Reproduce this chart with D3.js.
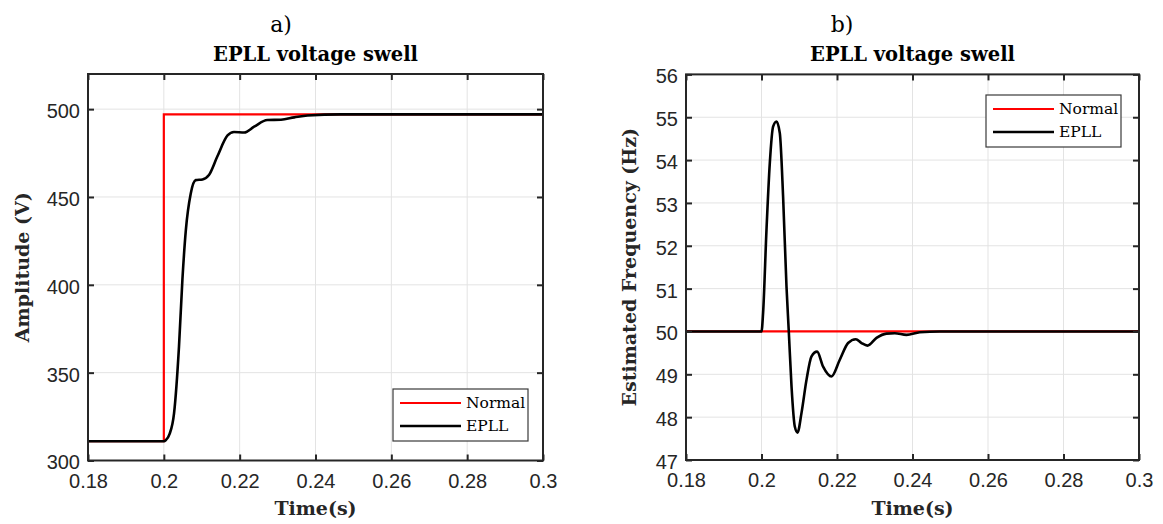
<!DOCTYPE html>
<html>
<head>
<meta charset="utf-8">
<script src="https://cdn.jsdelivr.net/npm/d3@7"></script>
<style>
  html, body { margin: 0; padding: 0; background: #fff; }
  svg { display: block; }
  .tick text { font-family: "Liberation Sans", Arial, sans-serif; font-size: 20px; fill: #262626; }
</style>
</head>
<body>
<svg id="chart" width="1163" height="524"></svg>
<script>
// Shared time axis ticks (s)
const timeTicks = [0.18, 0.2, 0.22, 0.24, 0.26, 0.28, 0.3];

// Panel a) amplitude ticks (V)
const ampTicks = [300, 350, 400, 450, 500];
// Ideal (normal) amplitude: step at the swell instant
const normalAmpTime = [0.18, 0.2, 0.2, 0.3];
const normalAmp     = [311, 311, 497, 497];
// EPLL amplitude estimate
const epllAmpTime = [0.18, 0.2, 0.2005, 0.2015, 0.2027, 0.2040, 0.2049, 0.2058, 0.2071, 0.2084,
                     0.2102, 0.2119, 0.2141, 0.2168, 0.2185, 0.2212, 0.2238, 0.2273, 0.2309,
                     0.2344, 0.2379, 0.2467, 0.26, 0.3];
const epllAmp     = [311, 311, 311.5, 315, 327, 365, 403, 431, 452, 459.6,
                     460, 462.5, 473, 485, 487, 486.7, 490, 493.8, 494,
                     495.3, 496.4, 497, 497, 497];

// Panel b) frequency ticks (Hz)
const freqTicks = [47, 48, 49, 50, 51, 52, 53, 54, 55, 56];
const normalFreqTime = [0.18, 0.3];
const normalFreq     = [50, 50];
// EPLL frequency estimate
const epllFreqTime = [0.18, 0.2, 0.20042, 0.20132, 0.2022, 0.20307, 0.20397, 0.20485, 0.20572,
                      0.20662, 0.20723, 0.20795, 0.20882, 0.20954, 0.2106, 0.21192, 0.21325,
                      0.21473, 0.21632, 0.21854, 0.22074, 0.22294, 0.22498, 0.22649, 0.22808,
                      0.23046, 0.23311, 0.23531, 0.23841, 0.24194, 0.24724, 0.26, 0.3];
const epllFreq     = [50, 50, 50.43, 52.37, 53.93, 54.78, 54.90, 54.63, 53.15,
                      51.05, 50.0, 48.72, 47.78, 47.64, 48.1, 48.87, 49.42,
                      49.53, 49.18, 48.95, 49.34, 49.73, 49.82, 49.73, 49.67,
                      49.85, 49.95, 49.96, 49.92, 49.98, 50, 50, 50];

const legendNames = ["Normal", "EPLL"];
const seriesColors = ["#ff0000", "#000000"];

const svg = d3.select("#chart");
const serif = "'DejaVu Serif', serif";
const fmt = d => d3.format("~g")(d);

function panel(cfg) {
  const { left, right, top, bottom } = cfg.box;
  const x = d3.scaleLinear().domain([0.18, 0.3]).range([left, right]);
  const y = d3.scaleLinear().domain(cfg.yDomain).range([bottom, top]);
  const g = svg.append("g");

  // grid
  g.append("g").selectAll("line.vx").data(timeTicks).join("line")
    .attr("x1", d => x(d)).attr("x2", d => x(d))
    .attr("y1", top).attr("y2", bottom)
    .attr("stroke", "#e3e3e3").attr("stroke-width", 1);
  g.append("g").selectAll("line.hy").data(cfg.yTicks).join("line")
    .attr("x1", left).attr("x2", right)
    .attr("y1", d => y(d)).attr("y2", d => y(d))
    .attr("stroke", "#e3e3e3").attr("stroke-width", 1);

  // data lines
  const line = d3.line().x(d => x(d[0])).y(d => y(d[1]));
  const smooth = d3.line().x(d => x(d[0])).y(d => y(d[1])).curve(d3.curveMonotoneX);
  g.append("path")
    .datum(d3.zip(cfg.normalT, cfg.normalV))
    .attr("d", line).attr("fill", "none")
    .attr("stroke", seriesColors[0]).attr("stroke-width", 2.2);
  g.append("path")
    .datum(d3.zip(cfg.epllT, cfg.epllV))
    .attr("d", smooth).attr("fill", "none")
    .attr("stroke", seriesColors[1]).attr("stroke-width", 2.6)
    .attr("stroke-linejoin", "round");

  // axes with inward ticks on all four sides
  const axStyle = sel => {
    sel.select(".domain").remove();
    sel.selectAll(".tick line").attr("stroke", "#262626").attr("stroke-width", 2);
  };
  g.append("g").attr("transform", `translate(0,${bottom})`)
    .call(d3.axisBottom(x).tickValues(timeTicks).tickFormat(fmt).tickSize(-6).tickPadding(13))
    .call(axStyle);
  g.append("g").attr("transform", `translate(0,${top})`)
    .call(d3.axisTop(x).tickValues(timeTicks).tickFormat("").tickSize(-6))
    .call(axStyle);
  g.append("g").attr("transform", `translate(${left},0)`)
    .call(d3.axisLeft(y).tickValues(cfg.yTicks).tickFormat(fmt).tickSize(-6).tickPadding(8))
    .call(axStyle)
    .selectAll("text").attr("dy", "0.42em");
  g.append("g").attr("transform", `translate(${right},0)`)
    .call(d3.axisRight(y).tickValues(cfg.yTicks).tickFormat("").tickSize(-6))
    .call(axStyle);

  // frame
  g.append("rect")
    .attr("x", left).attr("y", top)
    .attr("width", right - left).attr("height", bottom - top)
    .attr("fill", "none").attr("stroke", "#262626").attr("stroke-width", 2);

  // panel letter and title
  g.append("text").attr("x", cfg.letterX).attr("y", 32)
    .attr("text-anchor", "middle")
    .style("font-family", serif).style("font-size", "22px")
    .text(cfg.letter);
  g.append("text").attr("x", (left + right) / 2).attr("y", 61)
    .attr("text-anchor", "middle")
    .style("font-family", serif).style("font-size", "19.5px").style("font-weight", "bold")
    .text("EPLL voltage swell");

  // axis labels
  g.append("text").attr("x", (left + right) / 2).attr("y", 515)
    .attr("text-anchor", "middle")
    .style("font-family", serif).style("font-size", "19px").style("font-weight", "bold")
    .attr("fill", "#262626")
    .text("Time(s)");
  g.append("text")
    .attr("transform", `translate(${cfg.yLabelX},${(top + bottom) / 2}) rotate(-90)`)
    .attr("text-anchor", "middle")
    .style("font-family", serif).style("font-size", "19px").style("font-weight", "bold")
    .attr("fill", "#262626")
    .text(cfg.yLabel);

  // legend
  const L = cfg.legend;
  const lg = g.append("g").attr("transform", `translate(${L.x},${L.y})`);
  lg.append("rect").attr("width", 135).attr("height", 52)
    .attr("fill", "#fff").attr("stroke", "#3a3a3a").attr("stroke-width", 1.2);
  legendNames.forEach((name, i) => {
    const yy = 14 + i * 23;
    lg.append("line").attr("x1", 7).attr("x2", 68).attr("y1", yy).attr("y2", yy)
      .attr("stroke", seriesColors[i]).attr("stroke-width", i ? 2.6 : 2.2);
    lg.append("text").attr("x", 73).attr("y", yy + 5)
      .style("font-family", serif).style("font-size", "15.5px")
      .text(name);
  });
}

panel({
  box: { left: 88, right: 543, top: 74, bottom: 460.5 },
  yDomain: [300, 520], yTicks: ampTicks,
  normalT: normalAmpTime, normalV: normalAmp,
  epllT: epllAmpTime, epllV: epllAmp,
  letter: "a)", letterX: 281,
  yLabel: "Amplitude (V)", yLabelX: 29,
  legend: { x: 393, y: 389 }
});

panel({
  box: { left: 686, right: 1139, top: 74.4, bottom: 460 },
  yDomain: [47, 56], yTicks: freqTicks,
  normalT: normalFreqTime, normalV: normalFreq,
  epllT: epllFreqTime, epllV: epllFreq,
  letter: "b)", letterX: 842,
  yLabel: "Estimated Frequency (Hz)", yLabelX: 636,
  legend: { x: 986, y: 95 }
});
</script>
</body>
</html>
